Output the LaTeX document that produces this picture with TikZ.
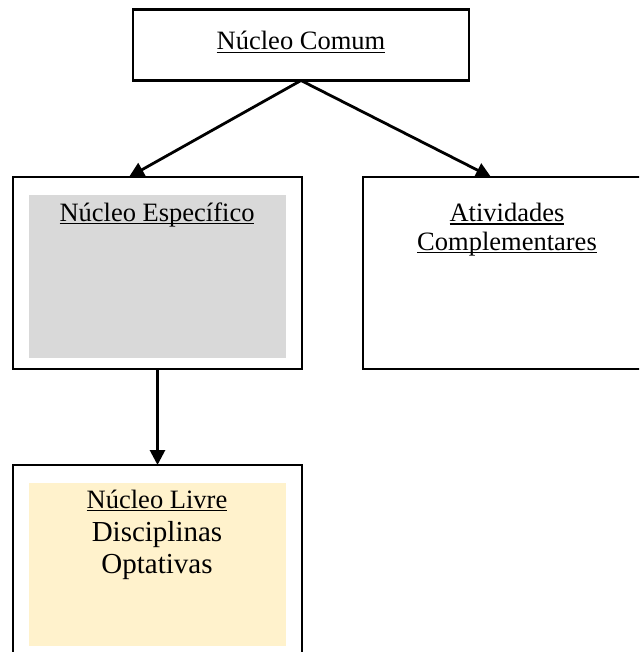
\documentclass[tikz,border=0pt]{standalone}
\usepackage{fontspec}
\setmainfont{Liberation Serif}
\usetikzlibrary{arrows.meta}
\definecolor{boxgrey}{HTML}{D9D9D9}
\definecolor{boxyellow}{HTML}{FFF2CC}
\newcommand\myul[1]{\setbox0=\hbox{#1}\rlap{\rule[-3.2pt]{\wd0}{1.4pt}}\box0}
\tikzset{
  frame/.style={draw=black, line width=2.2pt, fill=white, inner sep=0pt, outer sep=0pt},
  lbl/.style={anchor=base, inner sep=0pt, font=\fontsize{26.5}{30}\selectfont},
  lblbig/.style={anchor=base, inner sep=0pt, font=\fontsize{29}{32}\selectfont},
  conn/.style={line width=2.8pt, -{Triangle[length=15pt,width=15pt]}}
}
\begin{document}
\begin{tikzpicture}[x=1pt,y=-1pt]
\clip (0,0) rectangle (639,652);
\fill[white] (0,0) rectangle (639,652);
% boxes
\node[frame, minimum width=336pt, minimum height=71pt] (top) at (301,45) {};
\node[frame, minimum width=289pt, minimum height=192pt] (ne) at (157.5,273) {};
\node[frame, minimum width=286pt, minimum height=192pt] (ac) at (506,273) {};
\node[frame, minimum width=289pt, minimum height=220pt] (nl) at (157.5,575) {};
% inner fills
\fill[boxgrey] (29,195) rectangle (286,358);
\fill[boxyellow] (29,483) rectangle (286,646);
% texts
\node[lbl] (tTop) at (301,50) {\myul{Núcleo Comum}};
\node[lbl] (tNe) at (157,221) {\myul{Núcleo Específico}};
\node[lbl] (tAc1) at (507,221.5) {\myul{Atividades}};
\node[lbl] (tAc2) at (507,250) {\myul{Complementares}};
\node[lbl] (tNl1) at (157,508) {\myul{Núcleo Livre}};
\node[lblbig] (tNl2) at (157,541) {Disciplinas};
\node[lblbig] (tNl3) at (157,573) {Optativas};
% connectors
\coordinate (neIn) at (129,177);
\coordinate (acIn) at (491,177);
\draw[conn] (top.south) -- (neIn);
\draw[conn] (top.south) -- (acIn);
\draw[conn] (ne.south) -- (nl.north);
\end{tikzpicture}
\end{document}
